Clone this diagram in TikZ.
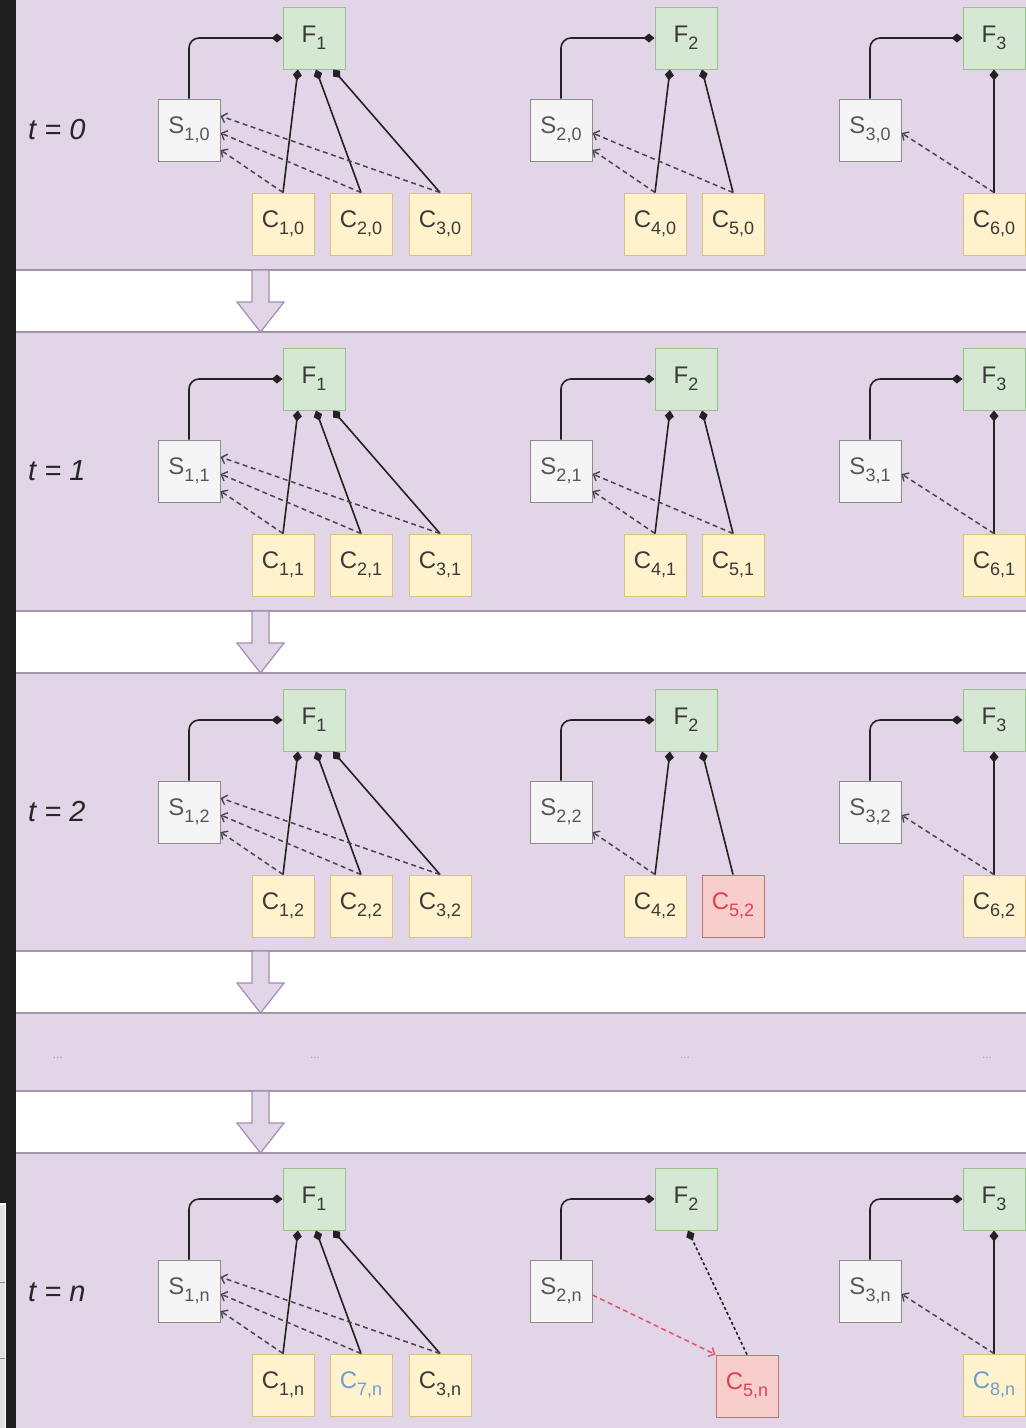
\documentclass[tikz,border=0pt]{standalone}
\usepackage{fontspec}
\setmainfont{Liberation Sans}
\usetikzlibrary{arrows.meta,calc}

\definecolor{bandfill}{HTML}{E1D5E7}
\definecolor{bandline}{HTML}{9F97A8}
\definecolor{shaftline}{HTML}{A08FB2}
\definecolor{stripdark}{HTML}{1F1F1F}
\definecolor{fedfill}{HTML}{D5E8D4}
\definecolor{fedline}{HTML}{9AC08A}
\definecolor{srvfill}{HTML}{F5F5F5}
\definecolor{srvline}{HTML}{8C8C8C}
\definecolor{clifill}{HTML}{FFF2CC}
\definecolor{cliline}{HTML}{D9C27A}
\definecolor{dropfill}{HTML}{F8CECC}
\definecolor{dropline}{HTML}{C8706C}
\definecolor{droptext}{HTML}{E0404E}
\definecolor{newtext}{HTML}{6C9FCF}
\definecolor{labeltext}{HTML}{3A3A3A}
\definecolor{linkline}{HTML}{222222}
\definecolor{reportline}{HTML}{4A4555}
\definecolor{dotstext}{HTML}{A39AAE}

% label with a lowered index, as in F_1 or C_{1,0}
\newcommand\lbl[2]{#1\raisebox{-0.28em}{\fontsize{18}{18}\selectfont #2}}

\tikzset{
  unit/.style={minimum width=62pt, minimum height=62pt, inner sep=0pt,
    line width=1pt, text=labeltext, font=\fontsize{24}{24}\selectfont},
  fedbox/.style={unit, draw=fedline, fill=fedfill},
  srvbox/.style={unit, draw=srvline, fill=srvfill, text=labeltext!85},
  clibox/.style={unit, draw=cliline, fill=clifill},
  dropbox/.style={unit, draw=dropline, fill=dropfill, text=droptext},
  ownlink/.style={draw=linkline, line width=1.6pt, rounded corners=10pt,
    -{Diamond[length=11pt,width=9pt]}},
  memblink/.style={draw=linkline, line width=1.6pt,
    -{Diamond[length=11pt,width=9pt]}},
  lostlink/.style={draw=linkline, line width=1.6pt, dash pattern=on 3pt off 2.5pt,
    -{Diamond[length=11pt,width=9pt]}},
  report/.style={draw=reportline, line width=1.5pt, dash pattern=on 5pt off 3.5pt,
    -{Straight Barb[length=5pt,width=10pt,line width=1.4pt]}},
  moved/.style={report, draw=droptext!90},
  timelbl/.style={anchor=west, inner sep=0pt, text=black!85,
    font=\fontsize{29}{29}\selectfont\itshape},
  dotslbl/.style={text=dotstext, font=\fontsize{12}{12}\selectfont},
  stepband/.style={fill=bandfill},
  bandedge/.style={draw=bandline, line width=1.5pt},
  steparrow/.style={fill=bandfill, draw=shaftline, line width=1.2pt, line join=miter}
}

% federation 1 with its server and three clients
\newcommand\fedone[4]{% top, tag, index, middle client label
  \node[fedbox] (F1#2) at (314,#1+46) {\lbl{F}{1}};
  \node[srvbox] (S1#2) at (189,#1+138) {\lbl{S}{1,#3}};
  \node[clibox] (Ca#2) at (283,#1+232) {\lbl{C}{1,#3}};
  \node[clibox] (Cb#2) at (361,#1+232) {#4};
  \node[clibox] (Cc#2) at (440,#1+232) {\lbl{C}{3,#3}};
  \draw[ownlink] (S1#2.north) |- (F1#2.west);
  \draw[memblink] (Ca#2.north) -- ([xshift=-16pt]F1#2.south);
  \draw[memblink] (Cb#2.north) -- ([xshift=2pt]F1#2.south);
  \draw[memblink] (Cc#2.north) -- ([xshift=19pt]F1#2.south);
  \draw[report] (Cc#2.north) -- ([yshift=14pt]S1#2.east);
  \draw[report] (Cb#2.north) -- ([yshift=-3pt]S1#2.east);
  \draw[report] (Ca#2.north) -- ([yshift=-20pt]S1#2.east);
}

% federation 2: its owner box and server
\newcommand\fedtwo[3]{% top, tag, index
  \node[fedbox] (F2#2) at (686,#1+46) {\lbl{F}{2}};
  \node[srvbox] (S2#2) at (561,#1+138) {\lbl{S}{2,#3}};
  \draw[ownlink] (S2#2.north) |- (F2#2.west);
}

% federation 3 with its server and one client
\newcommand\fedthree[4]{% top, tag, index, client label
  \node[fedbox] (F3#2) at (994,#1+46) {\lbl{F}{3}};
  \node[srvbox] (S3#2) at (870,#1+138) {\lbl{S}{3,#3}};
  \node[clibox] (Cf#2) at (994,#1+232) {#4};
  \draw[ownlink] (S3#2.north) |- (F3#2.west);
  \draw[memblink] (Cf#2.north) -- (F3#2.south);
  \draw[report] (Cf#2.north) -- ([yshift=-3pt]S3#2.east);
}

\begin{document}
\begin{tikzpicture}[x=1pt,y=-1pt]
\useasboundingbox (0,0) rectangle (1026,1428);
\fill[white] (0,0) rectangle (1026,1428);

% time step bands
\foreach \t/\b in {-8/270, 332/611, 673/951, 1013/1091} {
  \fill[stepband] (16,\t) rectangle (1026,\b);
  \draw[bandedge] (16,\t) -- (1026,\t);
  \draw[bandedge] (16,\b) -- (1026,\b);
}
\fill[stepband] (16,1153) rectangle (1026,1428);
\draw[bandedge] (16,1153) -- (1026,1153);

% arrows from one step to the next
\foreach \g/\h in {270/332, 611/673, 951/1013, 1091/1153} {
  \draw[steparrow] (252,\g) -- (269,\g) -- (269,\g+32) -- (284,\g+32)
    -- (260.5,\h) -- (237,\g+32) -- (252,\g+32) -- cycle;
}

% frame of the window on the left
\fill[stripdark] (0,0) rectangle (16,1428);
\fill[black!12] (0,1204) rectangle (4.5,1428);
\draw[white, line width=1.2pt] (0,1204) -- (5.5,1204) -- (5.5,1428);
\draw[black!45, line width=1pt] (0,1282) -- (4.5,1282) (0,1358) -- (4.5,1358);

% t = 0
\node[timelbl] (t0) at (28,130) {t = 0};
\fedone{-8}{a}{0}{\lbl{C}{2,0}}
\fedtwo{-8}{a}{0}
\node[clibox] (Cda) at (655,224) {\lbl{C}{4,0}};
\node[clibox] (Cea) at (733,224) {\lbl{C}{5,0}};
\draw[memblink] (Cda.north) -- ([xshift=-16pt]F2a.south);
\draw[memblink] (Cea.north) -- ([xshift=16pt]F2a.south);
\draw[report] (Cea.north) -- ([yshift=-3pt]S2a.east);
\draw[report] (Cda.north) -- ([yshift=-20pt]S2a.east);
\fedthree{-8}{a}{0}{\lbl{C}{6,0}}

% t = 1
\node[timelbl] (t1) at (28,471) {t = 1};
\fedone{333}{b}{1}{\lbl{C}{2,1}}
\fedtwo{333}{b}{1}
\node[clibox] (Cdb) at (655,565) {\lbl{C}{4,1}};
\node[clibox] (Ceb) at (733,565) {\lbl{C}{5,1}};
\draw[memblink] (Cdb.north) -- ([xshift=-16pt]F2b.south);
\draw[memblink] (Ceb.north) -- ([xshift=16pt]F2b.south);
\draw[report] (Ceb.north) -- ([yshift=-3pt]S2b.east);
\draw[report] (Cdb.north) -- ([yshift=-20pt]S2b.east);
\fedthree{333}{b}{1}{\lbl{C}{6,1}}

% t = 2
\node[timelbl] (t2) at (28,812) {t = 2};
\fedone{674}{c}{2}{\lbl{C}{2,2}}
\fedtwo{674}{c}{2}
\node[clibox] (Cdc) at (655,906) {\lbl{C}{4,2}};
\node[dropbox] (Cec) at (733,906) {\lbl{C}{5,2}};
\draw[memblink] (Cdc.north) -- ([xshift=-16pt]F2c.south);
\draw[memblink] (Cec.north) -- ([xshift=16pt]F2c.south);
\draw[report] (Cdc.north) -- ([yshift=-20pt]S2c.east);
\fedthree{674}{c}{2}{\lbl{C}{6,2}}

% steps in between
\node[dotslbl] (dots0) at (58,1058) {...};
\node[dotslbl] (dots1) at (315,1058) {...};
\node[dotslbl] (dots2) at (685,1058) {...};
\node[dotslbl] (dots3) at (987,1058) {...};

% t = n
\node[timelbl] (tn) at (28,1292) {t = n};
\fedone{1153}{d}{n}{\textcolor{newtext}{\lbl{C}{7,n}}}
\fedtwo{1153}{d}{n}
\node[dropbox] (Ced) at (747,1386) {\lbl{C}{5,n}};
\draw[lostlink] (Ced.north) -- ([xshift=2pt]F2d.south);
\draw[moved] ([yshift=-4pt]S2d.east) -- (Ced.north west);
\fedthree{1153}{d}{n}{\textcolor{newtext}{\lbl{C}{8,n}}}
\end{tikzpicture}
\end{document}
